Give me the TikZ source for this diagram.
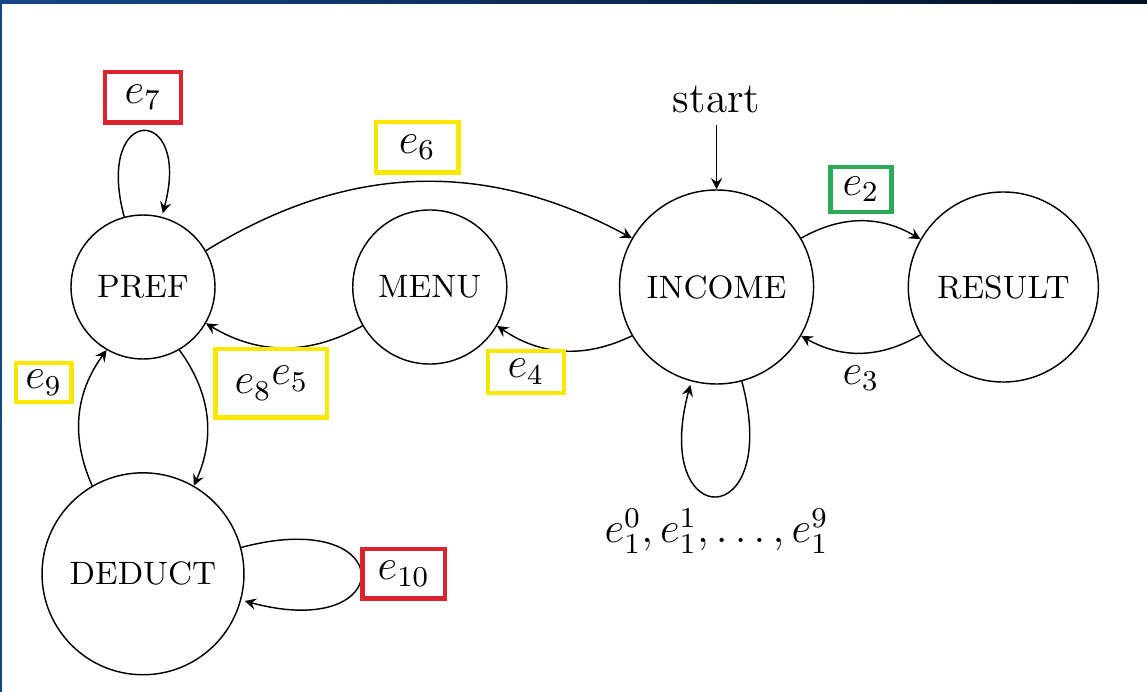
\documentclass[tikz,border=0pt]{standalone}
\usepackage{amsmath}
\usepackage{amssymb}
\usepackage{tikz}
\usetikzlibrary{positioning}

\definecolor{tagred}{RGB}{218,35,45}
\definecolor{tagyellow}{RGB}{250,232,0}
\definecolor{taggreen}{RGB}{45,170,85}
\definecolor{frameblue}{RGB}{20,70,140}
\definecolor{framenavy}{RGB}{2,16,36}

\begin{document}
\begin{tikzpicture}[%
		x=0.2778pt, y=-0.2778pt,
		->,
		>=stealth,
		node distance=2.8cm,
		on grid,
		screen/.style={%
			circle,
			draw,
			inner sep=0pt,
			font=\small
		},
		tagbox/.style n args={3}{%
			draw=#1,
			line width=1.2pt,
			inner sep=0pt,
			minimum width=#2,
			minimum height=#3,
			font=\large
		}
		]
		\useasboundingbox (0,0) rectangle (1147,692);
		% slide frame
		\fill[left color=frameblue, right color=framenavy] (0,0) rectangle (1147,4);
		\fill[frameblue] (0,0) rectangle (2,692);

		\node[screen, minimum size=40pt]   (pref)   at (143,287)              {PREF};
		\node[screen, minimum size=42.8pt] (menu)   [right=of pref]           {MENU};
		\node[screen, minimum size=53.9pt] (income) [right=of menu]           {INCOME};
		\node[screen, minimum size=52.8pt] (result) [right=of income]         {RESULT};
		\node[screen, minimum size=56.1pt] (deduct) [below=of pref]           {DEDUCT};
		\node[font=\large]                 (start)  [above=52.2pt of income]  {start};

		\path (start) edge                                   node {} (income)
		(pref) edge [loop above]                             node[above, yshift=2pt, tagbox={tagred}{21pt}{14pt}] {$e_7$} ()
		(pref) edge [bend left=30]                           node[above, yshift=2pt, tagbox={tagyellow}{23pt}{14pt}] {$e_6$} (income)
		(income) edge [bend left=30]                         node[above, yshift=2pt, tagbox={taggreen}{17pt}{12.5pt}] {$e_2$} (result)
		(result) edge [bend left=30]                         node[below, font=\large] {$e_3$} (income)
		(income) edge [bend left=30]                         node[below, pos=0.78, yshift=-2pt, tagbox={tagyellow}{21pt}{11.6pt}] {$e_4$} (menu)
		(menu) edge [bend left=30]                           node[below, pos=0.58, tagbox={tagyellow}{31pt}{19pt}] {$e_8$\raisebox{2.6pt}{$e_5$}} (pref)
		(pref) edge [bend left=30]                           node {} (deduct)
		(deduct) edge [bend left=30]                         node[left, pos=0.75, xshift=-4pt, tagbox={tagyellow}{15.5pt}{10.7pt}] {$e_9$} (pref)
		(deduct) edge [loop right]                           node[right, tagbox={tagred}{23pt}{13.8pt}] {$e_{10}$} ()
		(income) edge [loop below]                           node[below, font=\large] {$e_1^0, e_1^1, \ldots, e_1^9$} ();
		\end{tikzpicture}
\end{document}
